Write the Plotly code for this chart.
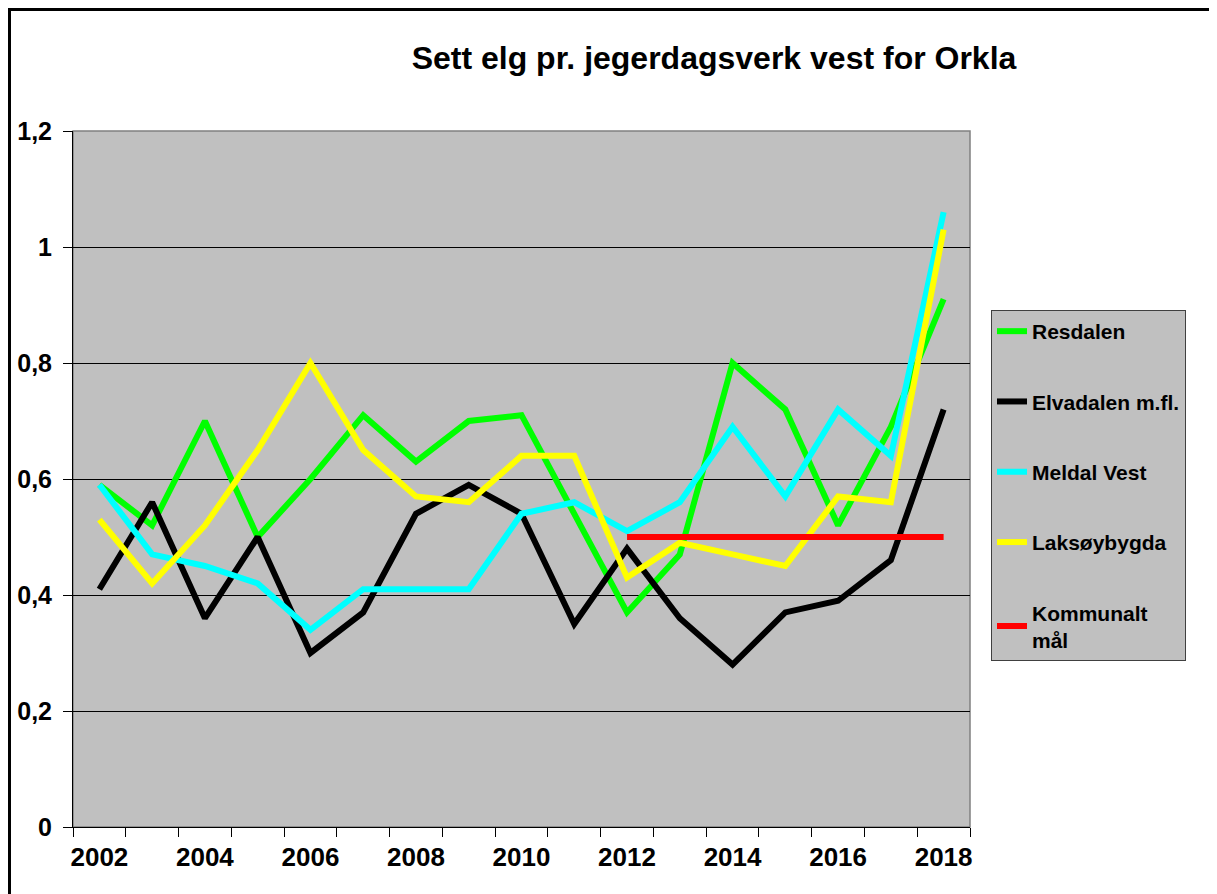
import plotly.graph_objects as go

years = list(range(2002, 2019))
resdalen = [0.59, 0.52, 0.70, 0.50, 0.60, 0.71, 0.63, 0.70, 0.71, 0.54, 0.37, 0.47, 0.80, 0.72, 0.52, 0.69, 0.91]
elvadalen = [0.41, 0.56, 0.36, 0.50, 0.30, 0.37, 0.54, 0.59, 0.54, 0.35, 0.48, 0.36, 0.28, 0.37, 0.39, 0.46, 0.72]
meldal_vest = [0.59, 0.47, 0.45, 0.42, 0.34, 0.41, 0.41, 0.41, 0.54, 0.56, 0.51, 0.56, 0.69, 0.57, 0.72, 0.64, 1.06]
laksoybygda = [0.53, 0.42, 0.52, 0.65, 0.80, 0.65, 0.57, 0.56, 0.64, 0.64, 0.43, 0.49, 0.47, 0.45, 0.57, 0.56, 1.03]
kommunalt_maal = [None] * 10 + [0.50] * 7

series_names = ["Resdalen", "Elvadalen m.fl.", "Meldal Vest", "Laksøybygda", "Kommunalt<br>mål"]
series_values = [resdalen, elvadalen, meldal_vest, laksoybygda, kommunalt_maal]
series_colors = ["#00FF00", "#000000", "#00FFFF", "#FFFF00", "#FF0000"]

x_tick_years = list(range(2002, 2019, 2))
y_tick_vals = [0, 0.2, 0.4, 0.6, 0.8, 1.0, 1.2]
y_tick_text = ["0", "0,2", "0,4", "0,6", "0,8", "1", "1,2"]

FONT = "Liberation Sans, Arial, sans-serif"

fig = go.Figure()
for i, (name, vals, col) in enumerate(zip(series_names, series_values, series_colors)):
    fig.add_trace(go.Scatter(
        x=years, y=vals, name=f"<b>{name.replace('<br>', '</b><br><b>')}</b>", mode="lines",
        line=dict(color=col, width=6),
        legendgroup=f"g{i}", connectgaps=False,
    ))

# page is offset by the default 8px body margin
W, H = 1209, 886
L, R, T, B = 65, 247, 123, 67
pw, ph = W - L - R, H - T - B

def px_x(p):
    return (p - L) / pw

def px_y(p):
    return (H - B - p) / ph

fig.update_layout(
    width=W, height=H,
    margin=dict(l=L, r=R, t=T, b=B, autoexpand=False),
    paper_bgcolor="white",
    plot_bgcolor="#C0C0C0",
    font=dict(family=FONT, color="black"),
    title=dict(
        text="<b>Sett elg pr. jegerdagsverk vest for Orkla</b>",
        x=706 / W, xref="container", xanchor="center",
        y=1 - 50 / H, yref="container", yanchor="middle",
        font=dict(size=32, family=FONT, color="black"),
    ),
    showlegend=True,
    legend=dict(
        x=px_x(983), y=px_y(302), xanchor="left", yanchor="top",
        xref="paper", yref="paper",
        bgcolor="#C0C0C0", bordercolor="#404040", borderwidth=1,
        font=dict(size=21, family=FONT, color="black"),
        tracegroupgap=40,
        itemwidth=30,
    ),
    xaxis=dict(
        range=[2001.5, 2018.5],
        automargin=False,
        tickmode="array", tickvals=x_tick_years,
        ticktext=[f"<b>{y}</b>" for y in x_tick_years],
        ticks="", showgrid=False,
        tickfont=dict(size=26, family=FONT),
        ticklabelstandoff=7,
        showline=True, linecolor="black", linewidth=1,
        minor=dict(ticks="outside", tick0=2001.5, dtick=1, ticklen=9, tickcolor="black", showgrid=False),
        zeroline=False,
    ),
    yaxis=dict(
        range=[0, 1.2],
        automargin=False,
        tickmode="array", tickvals=y_tick_vals,
        ticktext=[f"<b>{t}</b>" for t in y_tick_text],
        ticks="outside", ticklen=9, tickcolor="black",
        ticklabelstandoff=6,
        showgrid=True, gridcolor="#000000", gridwidth=1,
        tickfont=dict(size=25, family=FONT),
        showline=True, linecolor="black", linewidth=1,
        zeroline=False,
    ),
)

# plot area border (gray)
fig.add_shape(type="rect", xref="paper", yref="paper", x0=0, y0=0, x1=1, y1=1,
              line=dict(color="#808080", width=1.5), layer="below")
# outer chart frame along the figure edge
fig.add_shape(type="rect", xref="paper", yref="paper",
              x0=px_x(1.5), y0=px_y(H + 20), x1=px_x(W + 20), y1=px_y(1.5),
              line=dict(color="black", width=3), layer="above")

fig.write_html("out.html")
